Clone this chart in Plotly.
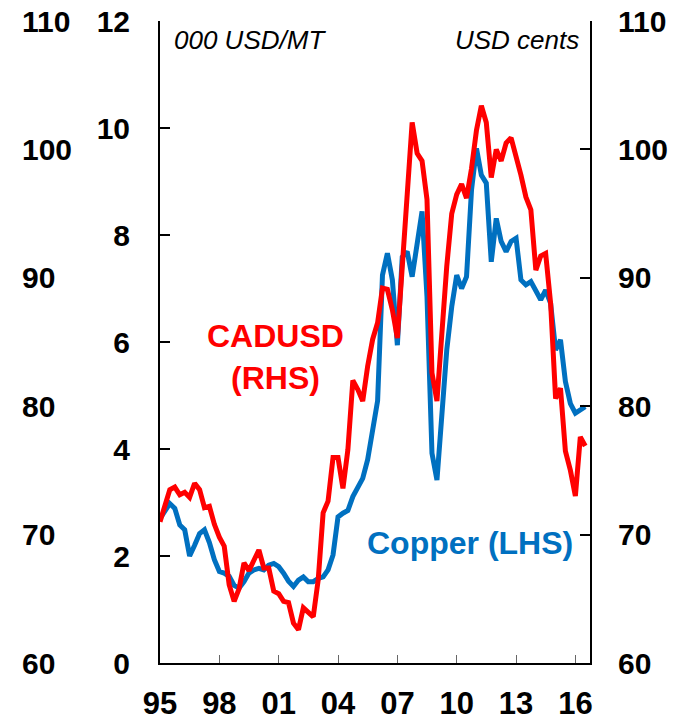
import plotly.graph_objects as go
import pandas as pd

# Quarterly observations, 1995Q1 .. 2016Q3
dates = pd.date_range("1995-01-01", periods=87, freq="QS")

# Copper price, 000 USD/MT (LHS)
copper = [
    2.70, 2.86, 2.98, 2.89,
    2.58, 2.49, 2.00, 2.20,
    2.42, 2.49, 2.25, 1.93,
    1.71, 1.68, 1.62, 1.45,
    1.40, 1.52, 1.68, 1.74,
    1.77, 1.74, 1.83, 1.86,
    1.80, 1.68, 1.53, 1.43,
    1.55, 1.61, 1.52, 1.52,
    1.58, 1.61, 1.74, 2.02,
    2.73, 2.80, 2.85, 3.11,
    3.30, 3.45, 3.80, 4.30,
    4.90, 7.25, 7.66, 7.16,
    5.94, 7.59, 7.69, 7.22,
    7.84, 8.44, 6.85, 3.92,
    3.42, 4.73, 5.85, 6.66,
    7.25, 7.00, 7.22, 8.84,
    9.62, 9.12, 8.97, 7.50,
    8.31, 7.88, 7.69, 7.88,
    7.94, 7.16, 7.07, 7.13,
    6.97, 6.79, 6.97, 6.72,
    5.85, 6.04, 5.26, 4.85,
    4.67, 4.73, 4.79,
]

# CADUSD, USD cents (RHS)
cadusd = [
    71.0, 72.4, 73.5, 73.7,
    73.1, 73.3, 72.9, 74.0,
    73.5, 72.1, 72.2, 70.8,
    69.8, 69.1, 66.1, 64.8,
    65.8, 67.8, 67.2, 68.0,
    68.8, 67.4, 67.4, 65.6,
    65.4, 64.8, 64.7, 63.1,
    62.6, 64.3, 64.0, 63.6,
    66.5, 71.7, 72.6, 76.0,
    76.0, 73.6, 76.6, 82.0,
    81.3, 80.4, 83.1, 85.2,
    86.5, 89.2, 89.1, 87.5,
    85.3, 90.5, 96.5, 102.1,
    99.7, 99.1, 96.1, 82.6,
    80.4, 85.7, 90.9, 95.0,
    96.5, 97.3, 96.2, 98.5,
    101.5, 103.4, 102.1, 97.8,
    100.0, 99.1, 100.5, 100.9,
    99.5, 98.0, 96.3, 95.3,
    90.6, 91.7, 91.9, 88.0,
    80.6, 81.4, 76.5, 75.0,
    73.0, 77.6, 76.9,
]

x_tick_years = ["1995-01-01", "1998-01-01", "2001-01-01", "2004-01-01",
                "2007-01-01", "2010-01-01", "2013-01-01", "2016-01-01"]
x_tick_text = ["95", "98", "01", "04", "07", "10", "13", "16"]
lhs_ticks = [0, 2, 4, 6, 8, 10, 12]
rhs_ticks = [60, 70, 80, 90, 100, 110]

BLUE = "#0070C0"
RED = "#FF0000"
FONT = "Liberation Sans, Arial, sans-serif"

OFF = 8                      # page body margin of the browser
W, H = 696 - OFF, 717 - OFF  # figure size so the page fits the window
L, R, T, B = 160, 590, 21, 663  # plot area in window pixels


def px(xp):
    return (xp - OFF) / W


def py(yp):
    return (B - yp) / (B - T)


fig = go.Figure()
fig.add_trace(go.Scatter(x=dates, y=copper, mode="lines", yaxis="y",
                         line=dict(color=BLUE, width=5), name="Copper (LHS)"))
fig.add_trace(go.Scatter(x=dates, y=cadusd, mode="lines", yaxis="y2",
                         line=dict(color=RED, width=5), name="CADUSD (RHS)"))
# invisible trace so the outer-left duplicate scale is drawn
fig.add_trace(go.Scatter(x=[dates[0]], y=[None], yaxis="y3", mode="lines",
                         showlegend=False, hoverinfo="skip"))

tickfont = dict(family=FONT, size=30, color="black", weight="bold")

fig.update_layout(
    width=W, height=H,
    margin=dict(l=0, r=0, t=T - OFF, b=H - (B - OFF), pad=0, autoexpand=False),
    paper_bgcolor="white", plot_bgcolor="white",
    showlegend=False,
    xaxis=dict(
        domain=[px(L), px(R)], automargin=False,
        type="date",
        range=["1995-01-01", "2016-09-27"],
        tickvals=x_tick_years, ticktext=x_tick_text,
        ticks="inside", ticklen=8, tickwidth=1, tickcolor="#666",
        showline=True, linecolor="black", linewidth=2,
        showgrid=False, zeroline=False,
        tickfont=dict(family=FONT, size=31, color="black", weight="bold"),
        ticklabelstandoff=12, ticklabeloverflow="allow",
    ),
    yaxis=dict(
        range=[0, 12], tickvals=lhs_ticks, automargin=False,
        ticks="inside", ticklen=10, tickwidth=2, tickcolor="black",
        showline=True, linecolor="black", linewidth=2,
        showgrid=False, zeroline=False,
        tickfont=tickfont, ticklabelstandoff=22, ticklabeloverflow="allow",
    ),
    yaxis2=dict(
        range=[60, 110], tickvals=rhs_ticks, automargin=False,
        overlaying="y", side="right", anchor="x",
        ticks="inside", ticklen=10, tickwidth=2, tickcolor="black",
        showline=True, linecolor="black", linewidth=2,
        showgrid=False, zeroline=False,
        tickfont=tickfont, ticklabelstandoff=20, ticklabeloverflow="allow",
    ),
    yaxis3=dict(
        range=[60, 110], tickvals=rhs_ticks, automargin=False,
        overlaying="y", side="right", anchor="free", position=px(21),
        ticks="", showline=False, showgrid=False, zeroline=False,
        tickfont=tickfont, ticklabeloverflow="allow",
    ),
)

ann_italic = dict(family=FONT, size=26, color="black", style="italic")
fig.add_annotation(x=px(172), y=py(40), xref="paper", yref="paper",
                   text="000 USD/MT", showarrow=False, xanchor="left",
                   yanchor="middle", font=ann_italic)
fig.add_annotation(x=px(581), y=py(40), xref="paper", yref="paper",
                   text="USD cents", showarrow=False, xanchor="right",
                   yanchor="middle", font=ann_italic)
fig.add_annotation(x=px(275), y=py(357), xref="paper", yref="paper",
                   text="CADUSD<br>(RHS)", showarrow=False, xanchor="center",
                   yanchor="middle",
                   font=dict(family=FONT, size=32, color=RED, weight="bold"))
fig.add_annotation(x=px(470), y=py(543), xref="paper", yref="paper",
                   text="Copper (LHS)", showarrow=False, xanchor="center",
                   yanchor="middle",
                   font=dict(family=FONT, size=32, color=BLUE, weight="bold"))

fig.write_html("out.html")
